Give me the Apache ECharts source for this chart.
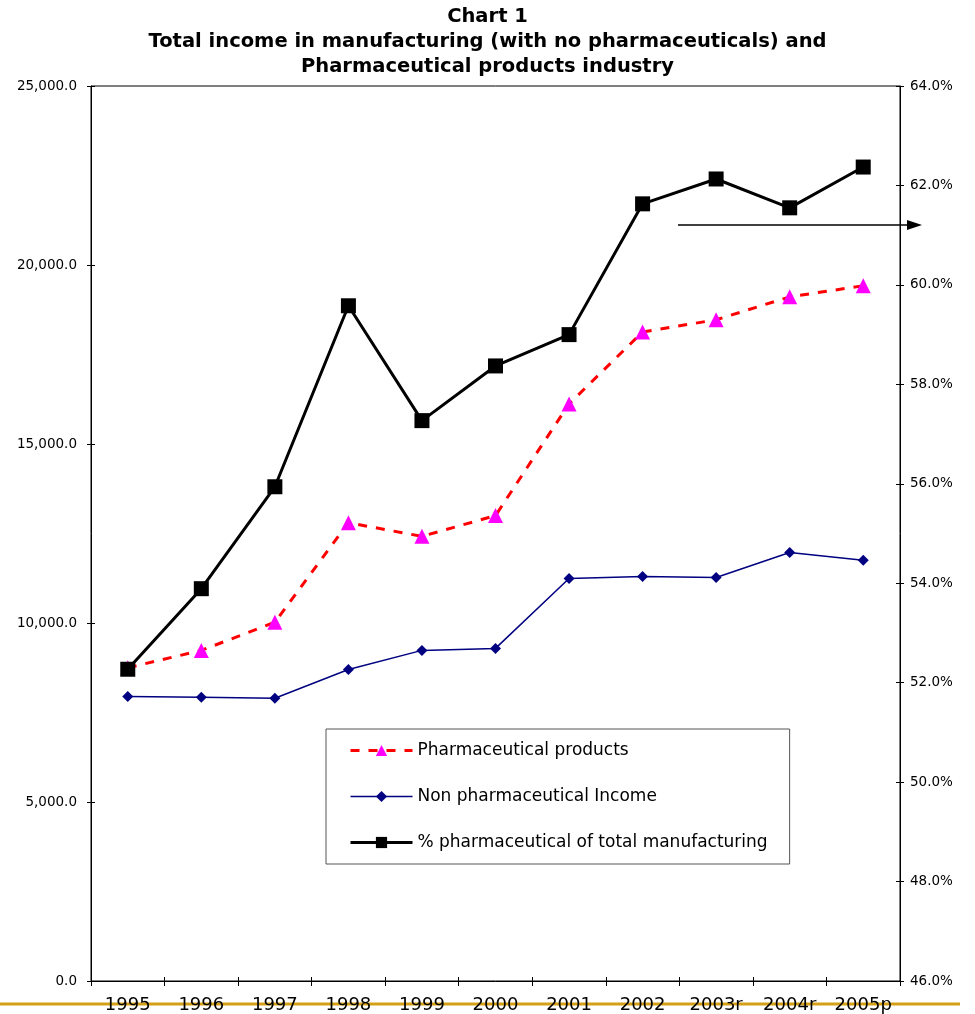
<!DOCTYPE html>
<html>
<head>
<meta charset="utf-8">
<script src="https://cdn.jsdelivr.net/npm/echarts@6/dist/echarts.min.js"></script>
<style>
html,body{margin:0;padding:0;background:#fff;}
#main{width:975px;height:1014px;}
</style>
</head>
<body>
<div id="main"></div>
<script>
const years = ['1995','1996','1997','1998','1999','2000','2001','2002','2003r','2004r','2005p'];
const pharmaProducts = [8750, 9235, 10020, 12800, 12420, 13000, 16120, 18130, 18470, 19110, 19420];
const nonPharmaIncome = [7950, 7925, 7900, 8700, 9235, 9290, 11245, 11300, 11270, 11970, 11750];
const pctPharma = [52.27, 53.89, 55.94, 59.58, 57.27, 58.37, 59.0, 61.63, 62.13, 61.55, 62.37];
const leftAxis = { min: 0, max: 25000, step: 5000 };
const rightAxis = { min: 46, max: 64, step: 2 };

const FONT = '"DejaVu Sans", Verdana, sans-serif';
const chart = echarts.init(document.getElementById('main'));

const tickOnly = (extra) => Object.assign({
  axisLine: { show: false },
  axisLabel: { show: false },
  splitLine: { show: false },
  axisTick: { show: true, inside: true, length: 4, interval: 0, lineStyle: { color: '#000' } }
}, extra);

chart.setOption({
  animation: false,
  backgroundColor: '#fff',
  textStyle: { fontFamily: FONT },
  title: {
    text: 'Chart 1\nTotal income in manufacturing (with no pharmaceuticals) and\nPharmaceutical products industry',
    left: 'center',
    top: -1,
    textStyle: { fontFamily: FONT, fontSize: 19.5, fontWeight: 'bold', color: '#000', lineHeight: 25 }
  },
  grid: {
    left: 91, right: 75, top: 86, bottom: 32,
    show: true, borderColor: '#000', borderWidth: 1, backgroundColor: '#fff'
  },
  legend: {
    orient: 'vertical',
    left: 326, top: 729,
    padding: [12, 22, 12, 23],
    itemGap: 27,
    itemWidth: 62, itemHeight: 14,
    backgroundColor: '#fff',
    borderColor: '#555', borderWidth: 1,
    textStyle: { fontFamily: FONT, fontSize: 17, color: '#000', lineHeight: 19 },
    data: [
      { name: 'Pharmaceutical products', lineStyle: { width: 3, type: [9, 9] } },
      { name: 'Non pharmaceutical Income', lineStyle: { width: 1.5 } },
      { name: '% pharmaceutical of total manufacturing', lineStyle: { width: 3 } }
    ]
  },
  xAxis: [
    {
      type: 'category',
      data: years,
      boundaryGap: true,
      position: 'bottom',
      axisLine: { lineStyle: { color: '#000', width: 1 } },
      axisTick: { show: true, inside: false, length: 5, interval: 0, lineStyle: { color: '#000' } },
      axisLabel: { color: '#000', fontSize: 18, fontFamily: FONT, margin: 15, interval: 0 }
    },
    tickOnly({ type: 'category', data: years, boundaryGap: true, position: 'bottom' })
  ],
  yAxis: [
    {
      type: 'value', min: leftAxis.min, max: leftAxis.max, interval: leftAxis.step, position: 'left',
      axisLine: { show: true, lineStyle: { color: '#000' } },
      axisTick: { show: true, length: 4, lineStyle: { color: '#000' } },
      splitLine: { show: false },
      axisLabel: { color: '#000', fontSize: 13.5, fontFamily: FONT, margin: 14,
        formatter: v => v.toLocaleString('en-US', { minimumFractionDigits: 1, maximumFractionDigits: 1 }) }
    },
    {
      type: 'value', min: rightAxis.min, max: rightAxis.max, interval: rightAxis.step, position: 'right',
      axisLine: { show: true, lineStyle: { color: '#000' } },
      axisTick: { show: true, length: 4, lineStyle: { color: '#000' } },
      splitLine: { show: false },
      axisLabel: { color: '#000', fontSize: 13.5, fontFamily: FONT, margin: 10,
        formatter: v => v.toFixed(1) + '%' }
    },
    tickOnly({ type: 'value', min: leftAxis.min, max: leftAxis.max, interval: leftAxis.step, position: 'left' }),
    tickOnly({ type: 'value', min: rightAxis.min, max: rightAxis.max, interval: rightAxis.step, position: 'right' })
  ],
  series: [
    {
      name: 'Pharmaceutical products', type: 'line', yAxisIndex: 0,
      data: pharmaProducts,
      symbol: 'triangle', symbolSize: 15,
      itemStyle: { color: '#FF00FF' },
      lineStyle: { color: '#FF0000', width: 3, type: [9, 9] },
      z: 2
    },
    {
      name: 'Non pharmaceutical Income', type: 'line', yAxisIndex: 0,
      data: nonPharmaIncome,
      symbol: 'diamond', symbolSize: 11,
      itemStyle: { color: '#000080' },
      lineStyle: { color: '#000080', width: 1.5 },
      z: 3
    },
    {
      name: '% pharmaceutical of total manufacturing', type: 'line', yAxisIndex: 1,
      data: pctPharma,
      symbol: 'rect', symbolSize: 15,
      itemStyle: { color: '#000' },
      lineStyle: { color: '#000', width: 3 },
      z: 4
    }
  ],
  graphic: [
    { type: 'line', shape: { x1: 0, y1: 1004, x2: 960, y2: 1004 }, style: { stroke: '#D4A017', lineWidth: 3 }, z: -1, silent: true },
    { type: 'line', shape: { x1: 678, y1: 225, x2: 910, y2: 225 }, style: { stroke: '#000', lineWidth: 1.5 }, z: 10 },
    { type: 'polygon', shape: { points: [[922, 225], [907, 220], [907, 230]] }, style: { fill: '#000' }, z: 10 }
  ]
});
</script>
</body>
</html>
